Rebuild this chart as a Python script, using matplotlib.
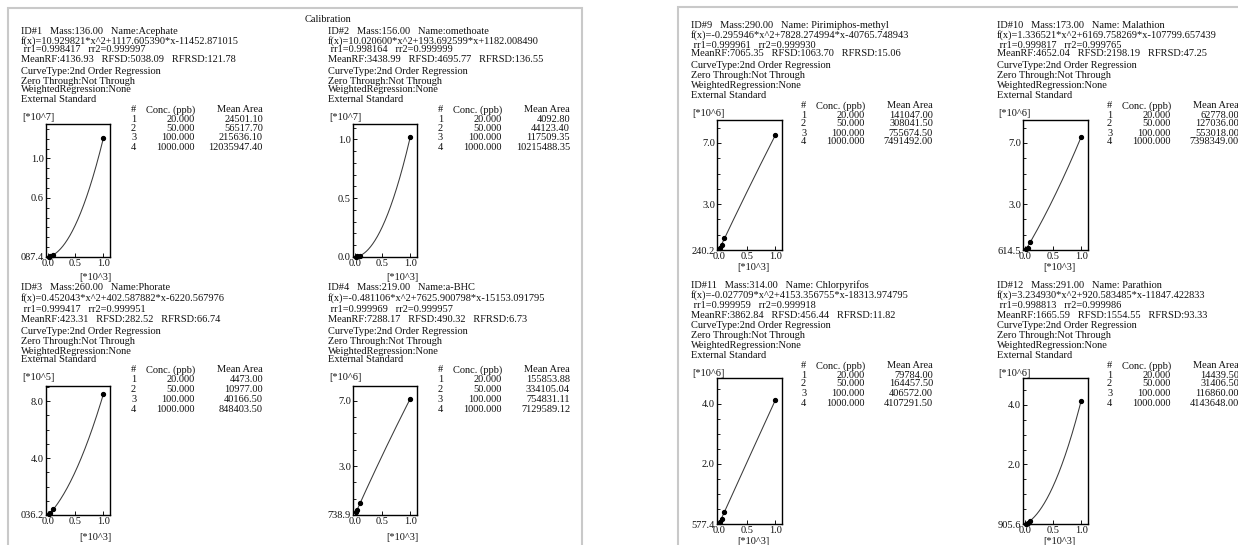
import numpy as np
import matplotlib.pyplot as plt
from matplotlib.patches import Rectangle
from matplotlib.ticker import MultipleLocator

conc_ppb = [20.000, 50.000, 100.000, 1000.000]

ids = [1, 2, 3, 4, 9, 10, 11, 12]
masses = [136.00, 156.00, 260.00, 219.00, 290.00, 173.00, 314.00, 291.00]
names = ["Acephate", "omethoate", "Phorate", "a-BHC",
         " Pirimiphos-methyl", " Malathion", " Chlorpyrifos", " Parathion"]

coef_a = [10.929821, 10.020600, 0.452043, -0.481106, -0.295946, 1.336521, -0.027709, 3.234930]
coef_b = [1117.605390, 193.692599, 402.587882, 7625.900798, 7828.274994, 6169.758269, 4153.356755, 920.583485]
coef_c = [-11452.871015, 1182.008490, -6220.567976, -15153.091795, -40765.748943, -107799.657439, -18313.974795, -11847.422833]

rr1 = [0.998417, 0.998164, 0.999417, 0.999969, 0.999961, 0.999817, 0.999959, 0.998813]
rr2 = [0.999997, 0.999999, 0.999951, 0.999957, 0.999930, 0.999765, 0.999918, 0.999986]

mean_rf = [4136.93, 3438.99, 423.31, 7288.17, 7065.35, 4652.04, 3862.84, 1665.59]
rfsd = [5038.09, 4695.77, 282.52, 490.32, 1063.70, 2198.19, 456.44, 1554.55]
rfrsd = [121.78, 136.55, 66.74, 6.73, 15.06, 47.25, 11.82, 93.33]

mean_area = [
    [24501.10, 56517.70, 215636.10, 12035947.40],
    [4092.80, 44123.40, 117509.35, 10215488.35],
    [4473.00, 10977.00, 40166.50, 848403.50],
    [155853.88, 334105.04, 754831.11, 7129589.12],
    [141047.00, 308041.50, 755674.50, 7491492.00],
    [62778.00, 127036.00, 553018.00, 7398349.00],
    [79784.00, 164457.50, 406572.00, 4107291.50],
    [14439.50, 31406.50, 116860.00, 4143648.00],
]

y_exp = [7, 7, 5, 6, 6, 6, 6, 6]
y_ticks = [[0.6, 1.0], [0.5, 1.0], [4.0, 8.0], [3.0, 7.0],
           [3.0, 7.0], [3.0, 7.0], [2.0, 4.0], [2.0, 4.0]]
y_min_label = ["087.4", "0.0", "036.2", "738.9", "240.2", "614.5", "577.4", "905.6"]
x_ticks = [0.0, 0.5, 1.0]

# ---- layout (pixels, measured from top-left) ----
W, H = 1238, 545
panel_tx = [21, 328, 21, 328, 691, 997, 691, 997]
panel_group = ["tl", "tl", "bl", "bl", "tr", "tr", "br", "br"]
groups = {
    "tl": dict(lines=[32, 41, 50, 59, 71, 81, 90, 99], hdr=110, rows=[119, 128.5, 138, 147.5],
               scale=117, top=124, bot=257, xlab=277, box=(25, 89), xl=74),
    "bl": dict(lines=[287, 298, 309, 319, 332, 342, 351, 360], hdr=370, rows=[380, 390, 400, 410],
               scale=378, top=386, bot=515, xlab=537, box=(25, 89), xl=74),
    "tr": dict(lines=[25, 35, 45, 53, 66, 76, 86, 96], hdr=106, rows=[115, 124, 133, 142],
               scale=113, top=120, bot=250, xlab=268, box=(26, 91), xl=62),
    "br": dict(lines=[285, 295, 305, 315, 326, 336, 346, 356], hdr=366, rows=[375, 384, 393, 403],
               scale=373, top=378, bot=524, xlab=541, box=(26, 91), xl=62),
}
y_top = [1.35, 1.13, 9.07, 7.9, 8.5, 8.5, 4.85, 4.9]
y_minor = [0.1, 0.1, 1.0, 1.0, 1.0, 1.0, 0.5, 0.5]

FONT = "Liberation Serif"
FS = 7.5
INK = "#111111"

fig = plt.figure(figsize=(W / 100, H / 100), dpi=100)
fig.patch.set_facecolor("white")


def fx(x):
    return x / W


def fy(y):
    return 1 - y / H


def put(x, y, s, ha="left"):
    fig.text(fx(x), fy(y), s, ha=ha, va="center", fontsize=FS, family=FONT, color=INK)


# report pages
fig.add_artist(Rectangle((fx(8), -0.1), fx(582 - 8), 1.1 - 8 / H, transform=fig.transFigure,
                         fill=False, ec="#c9c9c9", lw=1.5))
fig.add_artist(Rectangle((fx(678), -0.1), 0.6, 1.1 - 7 / H, transform=fig.transFigure,
                         fill=False, ec="#c9c9c9", lw=1.5))
put(305, 20, "Calibration")

for i in range(8):
    g = groups[panel_group[i]]
    tx = panel_tx[i]
    lines = [
        f"ID#{ids[i]}   Mass:{masses[i]:.2f}   Name:{names[i]}",
        f"f(x)={coef_a[i]:.6f}*x^2{coef_b[i]:+.6f}*x{coef_c[i]:+.6f}",
        f" rr1={rr1[i]:.6f}   rr2={rr2[i]:.6f}",
        f"MeanRF:{mean_rf[i]:.2f}   RFSD:{rfsd[i]:.2f}   RFRSD:{rfrsd[i]:.2f}",
        "CurveType:2nd Order Regression",
        "Zero Through:Not Through",
        "WeightedRegression:None",
        "External Standard",
    ]
    for s, y in zip(lines, g["lines"]):
        put(tx, y, s)

    # table
    put(tx + 110, g["hdr"], "#")
    put(tx + 174, g["hdr"], "Conc. (ppb)", ha="right")
    put(tx + 242, g["hdr"], "Mean Area", ha="right")
    for k, y in enumerate(g["rows"]):
        put(tx + 110, y, str(k + 1))
        put(tx + 174, y, f"{conc_ppb[k]:.3f}", ha="right")
        put(tx + 242, y, f"{mean_area[i][k]:.2f}", ha="right")

    put(tx + 1, g["scale"], f"[*10^{y_exp[i]}]")
    put(tx + g["xl"], g["xlab"], "[*10^3]", ha="center")

    # calibration plot
    l, r = tx + g["box"][0], tx + g["box"][1]
    ax = fig.add_axes([fx(l), fy(g["bot"]), fx(r - l), (g["bot"] - g["top"]) / H])
    scale = 10 ** y_exp[i]
    xs = np.array(conc_ppb) / 1000
    ys = np.array(mean_area[i]) / scale
    xx = np.linspace(conc_ppb[0], conc_ppb[-1], 200)
    yy = np.polyval([coef_a[i], coef_b[i], coef_c[i]], xx) / scale
    ax.plot(xx / 1000, yy, color="#3a3a3a", lw=0.75)
    ax.plot(xs, ys, "o", color="black", ms=2.8, clip_on=False)

    ax.set_xlim(-0.03, 1.12)
    ax.set_ylim(0, y_top[i])
    ax.set_xticks(x_ticks, [f"{v:.1f}" for v in x_ticks])
    ax.set_yticks([0] + y_ticks[i], [y_min_label[i]] + [f"{v:.1f}" for v in y_ticks[i]])
    ax.yaxis.set_minor_locator(MultipleLocator(y_minor[i]))
    ax.tick_params(axis="both", which="major", direction="in", length=3, width=0.7,
                   labelsize=FS, pad=1.5, colors=INK)
    ax.tick_params(axis="y", which="minor", direction="in", length=1.8, width=0.6)
    ax.tick_params(axis="x", which="minor", bottom=False)
    for lab in ax.get_xticklabels() + ax.get_yticklabels():
        lab.set_family(FONT)
    for sp in ax.spines.values():
        sp.set_linewidth(1.0)
        sp.set_color("black")
    ax.set_facecolor("white")

fig.savefig("out.png", dpi=100, facecolor="white")
